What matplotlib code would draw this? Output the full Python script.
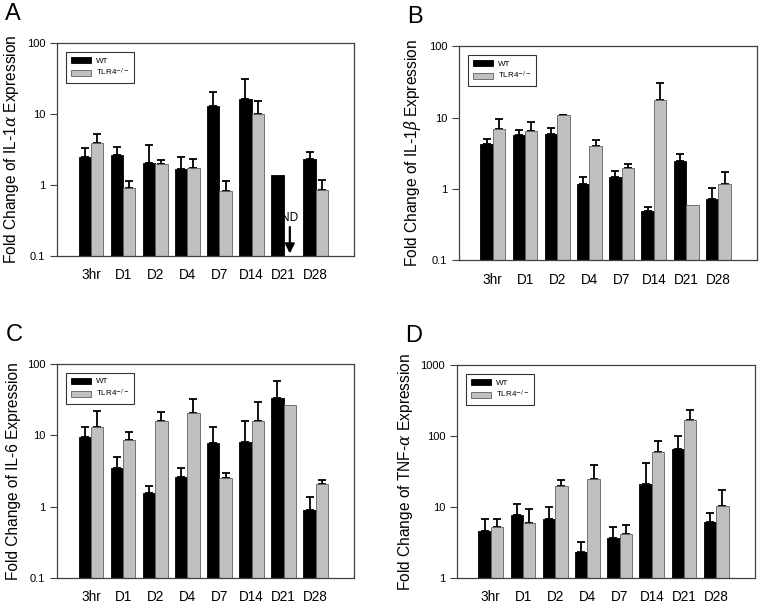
import numpy as np
import matplotlib
matplotlib.use("Agg")
import matplotlib.pyplot as plt
from matplotlib.patches import Patch

plt.rcParams["font.family"] = ["Liberation Sans", "DejaVu Sans"]
plt.rcParams["mathtext.fontset"] = "dejavuserif"

timepoints = ["3hr", "D1", "D2", "D4", "D7", "D14", "D21", "D28"]
nan = np.nan

# IL-1 alpha (D21 TLR4 not detected)
il1a_wt = [2.48, 2.67, 2.02, 1.70, 13.0, 16.4, 1.38, 2.30]
il1a_wt_err = [3.28, 3.46, 3.69, 2.45, 20.6, 31.0, nan, 2.88]
il1a_ko = [3.94, 0.92, 2.00, 1.75, 0.82, 9.9, nan, 0.86]
il1a_ko_err = [5.2, 1.15, 2.27, 2.34, 1.14, 15.2, nan, 1.16]

# IL-1 beta
il1b_wt = [4.2, 5.74, 5.8, 1.18, 1.48, 0.495, 2.46, 0.72]
il1b_wt_err = [5.05, 6.6, 7.1, 1.47, 1.76, 0.56, 3.11, 1.03]
il1b_ko = [6.95, 6.46, 10.8, 4.03, 1.98, 17.7, 0.595, 1.16]
il1b_ko_err = [9.5, 8.7, 11.0, 4.9, 2.25, 30.4, nan, 1.72]

# IL-6
il6_wt = [9.5, 3.49, 1.53, 2.6, 7.9, 8.1, 32.9, 0.91]
il6_wt_err = [13.2, 5.03, 1.97, 3.49, 13.2, 15.6, 58.3, 1.35]
il6_ko = [12.9, 8.7, 16.1, 20.5, 2.55, 16.1, 26.8, 2.05]
il6_ko_err = [21.6, 11.0, 21.4, 32.2, 2.93, 29.5, nan, 2.39]

# TNF alpha
tnf_wt = [4.58, 7.78, 6.83, 2.3, 3.61, 21.4, 65.2, 6.13]
tnf_wt_err = [6.83, 11.1, 10.1, 3.24, 5.27, 42.3, 100, 8.2]
tnf_ko = [5.16, 6.0, 19.9, 24.9, 4.2, 59.8, 170, 10.4]
tnf_ko_err = [6.83, 9.34, 23.9, 39.3, 5.62, 86.3, 233, 17.1]

WT_COLOR = "black"
KO_COLOR = "#c0c0c0"
BAR_W = 0.385

panels = [
    ("A", [0.075, 0.5755, 0.39, 0.353], il1a_wt, il1a_wt_err, il1a_ko, il1a_ko_err,
     "Fold Change of IL-1$\\alpha$ Expression", (0.1, 100)),
    ("B", [0.6024, 0.568, 0.391, 0.3557], il1b_wt, il1b_wt_err, il1b_ko, il1b_ko_err,
     "Fold Change of IL-1$\\beta$ Expression", (0.1, 100)),
    ("C", [0.075, 0.0415, 0.39, 0.355], il6_wt, il6_wt_err, il6_ko, il6_ko_err,
     "Fold Change of IL-6 Expression", (0.1, 100)),
    ("D", [0.5997, 0.0415, 0.391, 0.3532], tnf_wt, tnf_wt_err, tnf_ko, tnf_ko_err,
     "Fold Change of TNF-$\\alpha$ Expression", (1, 1000)),
]

fig = plt.figure(figsize=(7.62, 6.03), dpi=100)
x = np.arange(len(timepoints))

for letter, rect, wt, wt_err, ko, ko_err, ylabel, ylim in panels:
    ax = fig.add_axes(rect)
    ax.set_yscale("log")
    ax.bar(x - BAR_W / 2, wt, BAR_W, color=WT_COLOR, edgecolor="black", linewidth=0.6, zorder=2)
    ax.bar(x + BAR_W / 2, ko, BAR_W, color=KO_COLOR, edgecolor="#606060", linewidth=0.6, zorder=2)
    for xs, vals, tops in [(x - BAR_W / 2, wt, wt_err), (x + BAR_W / 2, ko, ko_err)]:
        for xi, v, t in zip(xs, vals, tops):
            if np.isnan(v) or np.isnan(t):
                continue
            ax.errorbar(xi, v, yerr=[[0], [t - v]], fmt="none", ecolor="black",
                        elinewidth=1.3, capsize=2.8, capthick=1.3, zorder=1)
    ax.set_ylim(*ylim)
    ax.set_xlim(-1.05, 8.2)
    ax.set_xticks(x)
    ax.set_xticklabels(timepoints, fontsize=9.8)
    ax.tick_params(axis="x", length=0, pad=9)
    ax.tick_params(axis="y", which="major", length=5, labelsize=8, color="#404040")
    ax.tick_params(axis="y", which="minor", length=0)
    ax.yaxis.set_major_formatter(matplotlib.ticker.FuncFormatter(lambda v, p: f"{v:g}"))
    for s in ax.spines.values():
        s.set_color("#404040")
        s.set_linewidth(0.9)
    ax.set_ylabel(ylabel, fontsize=11.2, labelpad=4)
    handles = [Patch(facecolor=WT_COLOR, edgecolor="black", linewidth=0.6),
               Patch(facecolor=KO_COLOR, edgecolor="#606060", linewidth=0.6)]
    leg = ax.legend(handles, ["WT", "TLR4$^{-/-}$"], loc="upper left", fontsize=5.8,
                    handlelength=2.5, handleheight=0.8, frameon=True, fancybox=False,
                    borderaxespad=1.1, borderpad=0.6, labelspacing=0.3, handletextpad=0.6)
    leg.get_frame().set_edgecolor("black")
    leg.get_frame().set_linewidth(0.8)
    fig.text(rect[0] - 0.068, rect[1] + rect[3] + 0.03, letter, fontsize=17, va="bottom", ha="left")
    if letter == "A":
        nd_x = 6 + BAR_W / 2
        ax.annotate("ND", xy=(nd_x, 0.108), xytext=(nd_x, 0.28), ha="center", va="bottom",
                    fontsize=8.5, arrowprops=dict(arrowstyle="-|>", color="black", lw=1.6,
                                                  mutation_scale=14, shrinkA=0, shrinkB=0))

fig.savefig("out.png", dpi=100)
